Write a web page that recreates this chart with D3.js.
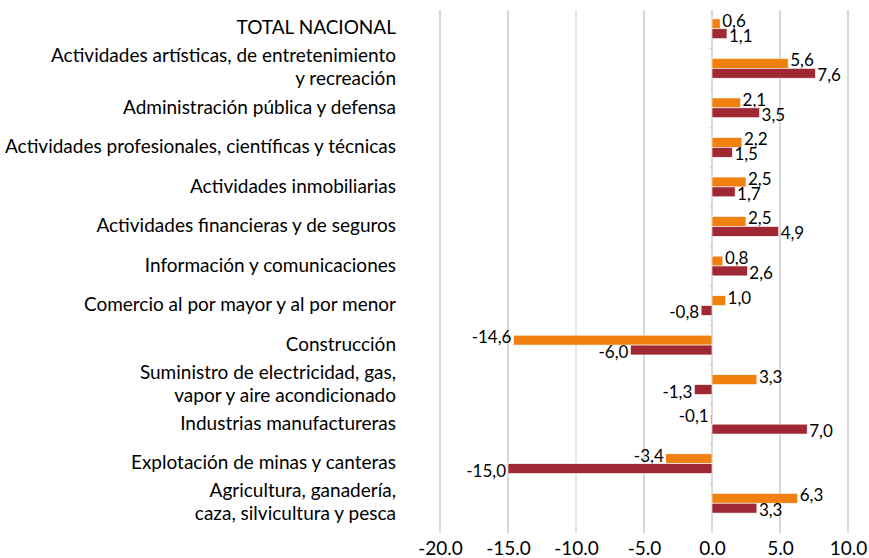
<!DOCTYPE html>
<html>
<head>
<meta charset="utf-8">
<style>
  body { margin: 0; background: #fff; }
  svg text { font-family: Lato, "Noto Sans", sans-serif; fill: #000; }
</style>
</head>
<body>
<svg id="chart" width="869" height="558"></svg>
<script src="https://cdn.jsdelivr.net/npm/d3@7"></script>
<script>
// categories, top to bottom
const categories = [
  "TOTAL NACIONAL",
  "Actividades artísticas, de entretenimiento\ny recreación",
  "Administración pública y defensa",
  "Actividades profesionales, científicas y técnicas",
  "Actividades inmobiliarias",
  "Actividades financieras y de seguros",
  "Información y comunicaciones",
  "Comercio al por mayor y al por menor",
  "Construcción",
  "Suministro de electricidad, gas,\nvapor y aire acondicionado",
  "Industrias manufactureras",
  "Explotación de minas y canteras",
  "Agricultura, ganadería,\ncaza, silvicultura y pesca"
];
const serieNaranja = [0.6, 5.6, 2.1, 2.2, 2.5, 2.5, 0.8, 1.0, -14.6, 3.3, -0.1, -3.4, 6.3];
const serieRoja = [1.1, 7.6, 3.5, 1.5, 1.7, 4.9, 2.6, -0.8, -6.0, -1.3, 7.0, -15.0, 3.3];
const xTicks = [-20, -15, -10, -5, 0, 5, 10];

const colores = ["#F0800F", "#A02835"];

const svg = d3.select("#chart");
const gridTop = 10, gridBottom = 533;

const x = d3.scaleLinear().domain([-20, 10]).range([440, 848]);
const y = d3.scaleBand().domain(categories).range([9, 523]).paddingInner(0.5).paddingOuter(0.25);
const sub = d3.scaleBand().domain([0, 1]).range([0, y.bandwidth()]);

// gridlines
svg.append("g")
  .selectAll("line")
  .data(xTicks)
  .join("line")
    .attr("x1", d => x(d)).attr("x2", d => x(d))
    .attr("y1", gridTop).attr("y2", gridBottom)
    .attr("stroke", d => d === -10 ? "#d6d6d6" : "#bfbfbf")
    .attr("stroke-width", 1.2);

// small ticks on the zero axis between groups
svg.append("g")
  .selectAll("line")
  .data(categories.slice(1))
  .join("line")
    .attr("x1", x(0) - 3).attr("x2", x(0))
    .attr("y1", d => y(d) - y.step() * y.paddingInner() / 2)
    .attr("y2", d => y(d) - y.step() * y.paddingInner() / 2)
    .attr("stroke", "#d9d9d9");

// x axis labels
const xAxis = d3.axisBottom(x).tickValues(xTicks).tickSize(0).tickFormat(d => d.toFixed(1));
svg.append("g")
  .attr("transform", `translate(0,${gridBottom})`)
  .call(xAxis)
  .call(g => g.select(".domain").remove())
  .selectAll("text")
    .attr("dy", "1em")
    .attr("y", 3)
    .style("font-size", "19px")
    .style("font-family", "Lato, sans-serif");

// bars
const series = [serieNaranja, serieRoja];
series.forEach((vals, s) => {
  const g = svg.append("g");
  const rows = categories.map((c, i) => ({ c, v: vals[i] }));
  g.selectAll("rect")
    .data(rows)
    .join("rect")
      .attr("x", d => x(Math.min(0, d.v)))
      .attr("width", d => Math.abs(x(d.v) - x(0)))
      .attr("y", d => y(d.c) + sub(s))
      .attr("height", sub.bandwidth())
      .attr("fill", colores[s])
      .attr("stroke", "#fff")
      .attr("stroke-width", 0.6);
  g.selectAll("text")
    .data(rows)
    .join("text")
      .attr("x", d => d.v >= 0 ? x(d.v) + 2 : x(d.v) - 2)
      .attr("y", d => y(d.c) + sub(s) + sub.bandwidth() / 2 + (s === 0 ? -3 : 2))
      .attr("dy", "0.35em")
      .attr("text-anchor", d => d.v >= 0 ? "start" : "end")
      .style("font-size", "17px")
      .text(d => d.v.toFixed(1).replace(".", ","));
});

// category labels
const lineH = 23;
const labels = svg.append("g")
  .selectAll("text")
  .data(categories)
  .join("text")
    .attr("text-anchor", "end")
    .style("font-size", "19px")
    .attr("transform", d => `translate(396,${y(d) + y.bandwidth() / 2 - 1})`);
labels.each(function(d) {
  const lines = d.split("\n");
  const t = d3.select(this);
  lines.forEach((ln, k) => {
    t.append("tspan")
      .attr("x", 0)
      .attr("y", (k - (lines.length - 1) / 2) * lineH)
      .attr("dy", "0.35em")
      .text(ln);
  });
});
</script>
</body>
</html>
